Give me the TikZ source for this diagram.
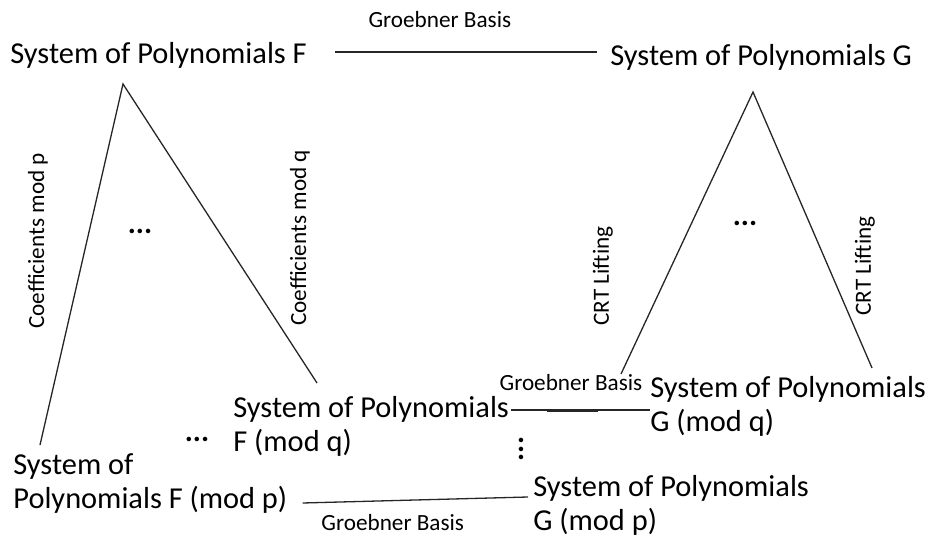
\documentclass[tikz,border=0pt]{standalone}
\usepackage{fontspec}
\setmainfont{Carlito}
\usetikzlibrary{positioning, calc}

\begin{document}
\begin{tikzpicture}[
      x=0.5pt, y=-0.5pt,
      sysnode/.style={inner sep=0pt, anchor=west, align=left,
                      font=\fontsize{15.2}{17}\selectfont},
      lbl/.style={inner sep=0pt, font=\fontsize{11.6}{13}\selectfont},
      side/.style={lbl, rotate=90},
      dots/.style={inner sep=0pt, font=\fontsize{15.2}{17}\selectfont\bfseries},
      link/.style={line width=0.65pt, draw=black!85}
    ]
    \useasboundingbox (0,0) rectangle (931,539);
    % the four kinds of systems
    \node[sysnode] (F) at (10,55) {System of Polynomials F};
    \node[sysnode] (G) at (610,57) {System of Polynomials G};
    \node[sysnode] (Fq) at (233,426) {System of Polynomials\\F (mod q)};
    \node[sysnode] (Fp) at (13,484) {System of\\Polynomials F (mod p)};
    \node[sysnode] (Gq) at (650,406) {System of Polynomials\\G (mod q)};
    \node[sysnode] (Gp) at (533,505) {System of Polynomials\\G (mod p)};

    % reduction and lifting fans
    \coordinate (topF) at (123,84);
    \coordinate (endFp) at (40,445);
    \coordinate (endFq) at (317,383);
    \coordinate (topG) at (753,92);
    \coordinate (endGp) at (621,374);
    \coordinate (endGq) at (872,368);
    \draw[link] (endFp) -- (topF) -- (endFq);
    \draw[link] (endGp) -- (topG) -- (endGq);
    \node[side] (cp) at (38,241) {Coefficients mod p};
    \node[side] (cq) at (300,238) {Coefficients mod q};
    \node[side] (crtp) at (603,276) {CRT Lifting};
    \node[side] (crtq) at (865,266) {CRT Lifting};
    \node[dots] (dF) at (140,231) {...};
    \node[dots] (dG) at (745,223) {...};
    \node[dots] (dmid) at (197,439) {...};
    \node[dots, rotate=90] (dv) at (521,449) {...};

    % groebner basis links
    \draw[link] ($(F.east)+(28,-3)$) -- ($(F.east -| G.west)+(-13,-3)$)
      node[lbl, pos=0.4, yshift=16pt] (gbF) {Groebner Basis};
    \draw[link] ($(Fq.east |- Gq.west)+(2,4)$) -- ($(Gq.west)+(0,4)$)
      node[lbl, pos=0.43, yshift=13.5pt] (gbq) {Groebner Basis};
    \draw[link, line width=1.5pt] ($(Fq.east |- Gq.west)!0.27!(Gq.west)+(0,4)$)
      -- ($(Fq.east |- Gq.west)!0.63!(Gq.west)+(0,4)$);
    \draw[link] ($(Fp.east)+(15,19)$) -- ($(Gp.west)+(-5,-8)$)
      node[lbl, pos=0.4, yshift=-11pt] (gbp) {Groebner Basis};
  \end{tikzpicture}
\end{document}
